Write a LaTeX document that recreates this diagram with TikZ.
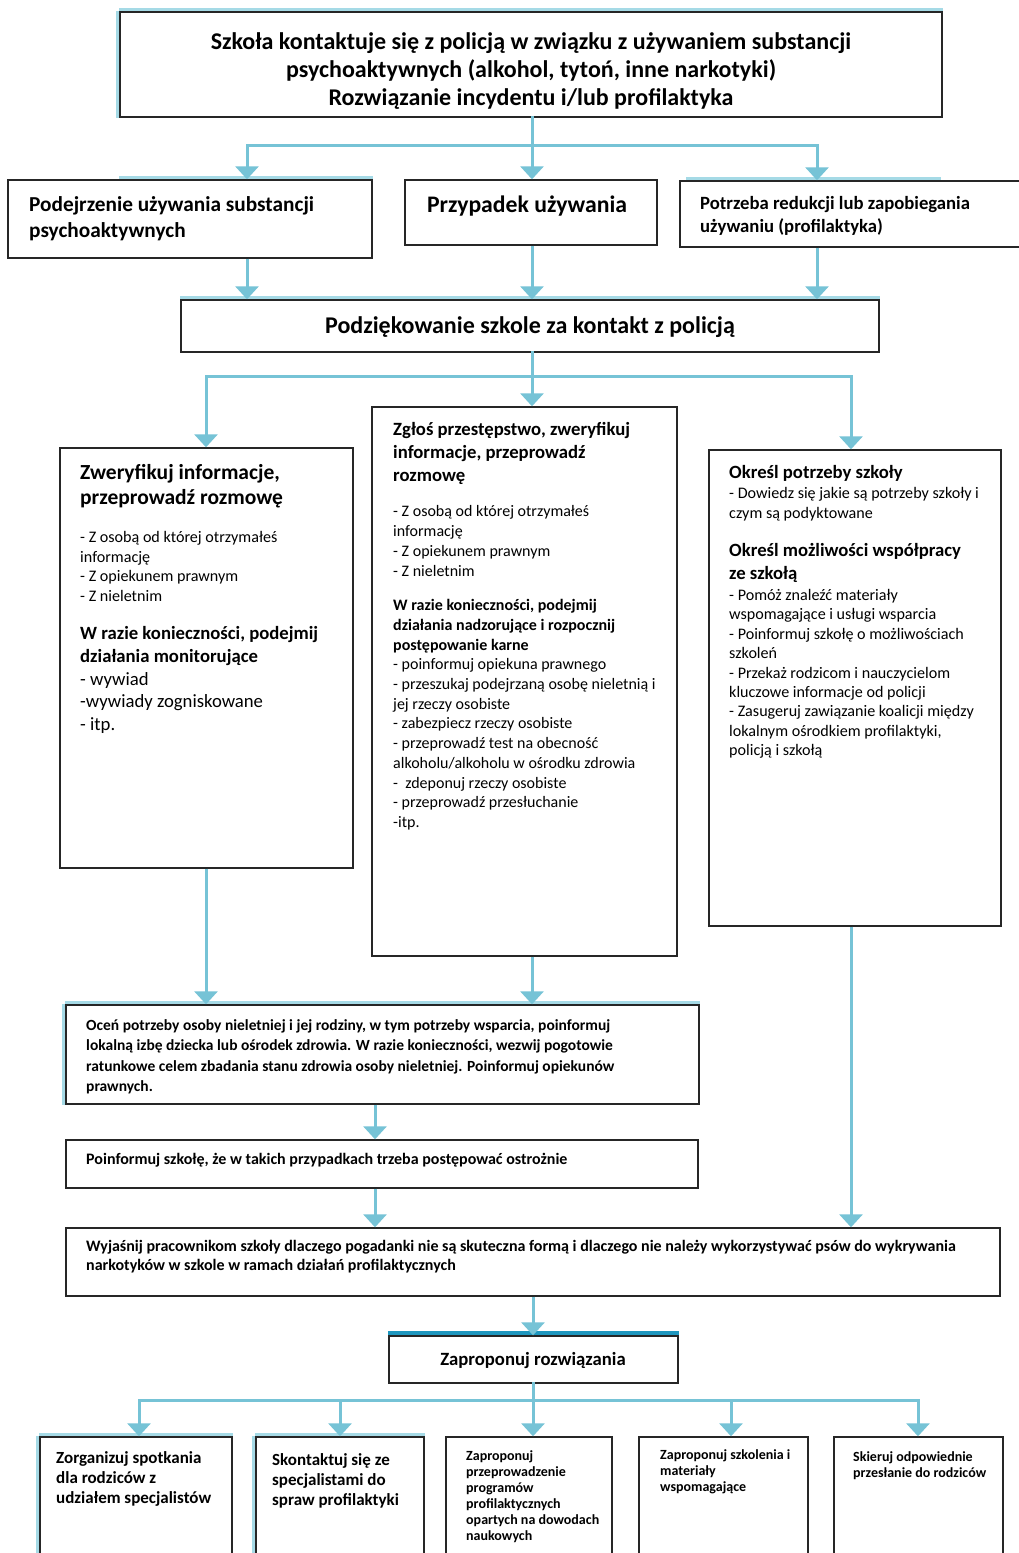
\documentclass[tikz,border=0pt]{standalone}
\usepackage{fontspec}
\setmainfont{Carlito}
\usetikzlibrary{fit,arrows.meta}
\definecolor{connblue}{RGB}{118,195,214}
\definecolor{glowblue}{RGB}{165,218,230}
\definecolor{bandblue}{RGB}{30,150,190}
\newcommand{\fsz}[2]{\fontsize{#1}{#2}\selectfont}
\tikzset{
  box/.style={draw=black!85, line width=1.4pt, fill=white, inner sep=0pt},
  link/.style={draw=connblue, line width=3pt, line cap=rect},
  arr/.style={draw=connblue, line width=3pt, -{Triangle[width=23pt,length=13pt]}},
  glow/.style={draw=glowblue, line width=2.5pt},
  txt/.style={anchor=north west, align=left, inner sep=0pt},
  ctxt/.style={anchor=north, align=center, inner sep=0pt},
}
\begin{document}
\begin{tikzpicture}[x=1pt,y=-1pt]
\useasboundingbox (0,0) rectangle (1019,1553);
\fill[white] (0,0) rectangle (1019,1553);

% ---------- boxes ----------
\node[box, fit={(120,12)(942,117)}] (top) {};
\node[box, fit={(8,180)(372,258)}] (A) {};
\node[box, fit={(405,180)(657,245)}] (B) {};
\node[box, fit={(680,181)(1030,247)}] (C) {};
\node[box, fit={(181,300)(879,352)}] (P) {};
\node[box, fit={(60,448)(353,868)}] (D) {};
\node[box, fit={(372,407)(677,956)}] (E) {};
\node[box, fit={(709,450)(1001,926)}] (F) {};
\node[box, fit={(66,1005)(699,1104)}] (G) {};
\node[box, fit={(66,1140)(698,1188)}] (H) {};
\node[box, fit={(66,1228)(1000,1296)}] (I) {};
\node[box, fit={(389,1336)(678,1383)}] (J) {};
\node[box, fit={(40,1437)(232,1580)}] (K1) {};
\node[box, fit={(256,1437)(424,1580)}] (K2) {};
\node[box, fit={(446,1437)(612,1580)}] (K3) {};
\node[box, fit={(639,1437)(808,1580)}] (K4) {};
\node[box, fit={(834,1437)(1003,1580)}] (K5) {};

% ---------- glow edges ----------
\draw[glow] ([yshift=2pt]top.north west) -- ([yshift=2pt]top.north east);
\draw[glow] ([xshift=-2pt]top.north west) -- ([xshift=-2pt]top.south west);
\draw[glow] ([yshift=2pt,xshift=112pt]A.north west) -- ([yshift=2pt]A.north east);
\draw[glow] ([yshift=2pt,xshift=7pt]C.north west) -- ([yshift=2pt,xshift=262pt]C.north west);
\draw[glow] ([yshift=2pt]P.north west) -- ([yshift=2pt]P.north east);
\draw[glow] ([yshift=2pt]G.north west) -- ([yshift=2pt]G.north east);
\draw[glow] ([xshift=-2pt]G.north west) -- ([xshift=-2pt]G.south west);
\draw[bandblue, line width=3.5pt] ([yshift=2.5pt]J.north west) -- ([yshift=2.5pt]J.north east);
\draw[glow] ([yshift=2pt]K1.north west) -- ([yshift=2pt]K1.north east);
\draw[glow] ([xshift=-2pt]K1.north west) -- ([xshift=-2pt]K1.south west);
\draw[glow] ([yshift=2pt]K2.north west) -- ([yshift=2pt]K2.north east);
\draw[glow] ([xshift=-2pt]K2.north west) -- ([xshift=-2pt]K2.south west);

% ---------- texts ----------
\node[ctxt, font=\bfseries\fsz{24}{28}] (topT) at (531,32)
  {Szkoła kontaktuje się z policją w związku z używaniem substancji\\psychoaktywnych (alkohol, tytoń, inne narkotyki)\\Rozwiązanie incydentu i/lub profilaktyka};
\node[txt, font=\bfseries\fsz{21.3}{26}] (AT) at (29,196)
  {Podejrzenie używania substancji\\psychoaktywnych};
\node[ctxt, font=\bfseries\fsz{23.7}{26}] (BT) at (527,196) {Przypadek używania};
\node[txt, font=\bfseries\fsz{18.7}{23}] (CT) at (700,196)
  {Potrzeba redukcji lub zapobiegania\\używaniu (profilaktyka)};
\node[ctxt, font=\bfseries\fsz{24}{26}] (PT) at (530,316) {Podziękowanie szkole za kontakt z policją};

\node[txt, font=\bfseries\fsz{21.5}{25}] (dT1) at (80,464)
  {Zweryfikuj informacje,\\przeprowadź rozmowę};
\node[txt, font=\fsz{16.1}{19.5}] (dT2) at (80,531.2)
  {- Z osobą od której otrzymałeś\\informację\\- Z opiekunem prawnym\\- Z nieletnim};
\node[txt, font=\bfseries\fsz{18.7}{23}] (dT3) at (80,626)
  {W razie konieczności, podejmij\\działania monitorujące};
\node[txt, font=\fsz{18.7}{22.5}] (dT4) at (80,672)
  {- wywiad\\-wywiady zogniskowane\\- itp.};

\node[txt, font=\bfseries\fsz{18.7}{23}] (eT1) at (393,422)
  {Zgłoś przestępstwo, zweryfikuj\\informacje, przeprowadź\\rozmowę};
\node[txt, font=\fsz{16}{20}] (eT2) at (393,505.3)
  {- Z osobą od której otrzymałeś\\informację\\- Z opiekunem prawnym\\- Z nieletnim};
\node[txt, font=\fsz{16}{19.7}] (eT3) at (393,599.3)
  {{\bfseries W razie konieczności, podejmij}\\{\bfseries działania nadzorujące i rozpocznij}\\{\bfseries postępowanie karne}\\
   - poinformuj opiekuna prawnego\\- przeszukaj podejrzaną osobę nieletnią i\\jej rzeczy osobiste\\- zabezpiecz rzeczy osobiste\\
   - przeprowadź test na obecność\\alkoholu/alkoholu w ośrodku zdrowia\\-\ \ zdeponuj rzeczy osobiste\\- przeprowadź przesłuchanie\\-itp.};

\node[txt, font=\bfseries\fsz{18.7}{23}] (fT1) at (729,465) {Określ potrzeby szkoły};
\node[txt, font=\fsz{16.1}{20}] (fT2) at (729,487.2)
  {- Dowiedz się jakie są potrzeby szkoły i\\czym są podyktowane};
\node[txt, font=\bfseries\fsz{18.7}{23}] (fT3) at (729,543)
  {Określ możliwości współpracy\\ze szkołą};
\node[txt, font=\fsz{16.1}{19.4}] (fT4) at (729,589.2)
  {- Pomóż znaleźć materiały\\wspomagające i usługi wsparcia\\- Poinformuj szkołę o możliwościach\\szkoleń\\- Przekaż rodzicom i nauczycielom\\kluczowe informacje od policji\\- Zasugeruj zawiązanie koalicji między\\lokalnym ośrodkiem profilaktyki,\\policją i szkołą};

\node[txt, font=\bfseries\fsz{15.5}{20.3}] (GT) at (86,1019.5)
  {Oceń potrzeby osoby nieletniej i jej rodziny, w tym potrzeby wsparcia, poinformuj\\lokalną izbę dziecka lub ośrodek zdrowia. W razie konieczności, wezwij pogotowie\\ratunkowe celem zbadania stanu zdrowia osoby nieletniej. Poinformuj opiekunów\\prawnych.};
\node[txt, font=\bfseries\fsz{16}{20}] (HT) at (86,1153.3)
  {Poinformuj szkołę, że w takich przypadkach trzeba postępować ostrożnie};
\node[txt, font=\bfseries\fsz{16}{19}] (IT) at (86,1240.3)
  {Wyjaśnij pracownikom szkoły dlaczego pogadanki nie są skuteczna formą i dlaczego nie należy wykorzystywać psów do wykrywania\\narkotyków w szkole w ramach działań profilaktycznych};
\node[ctxt, font=\bfseries\fsz{18.7}{22}] (JT) at (533,1352) {Zaproponuj rozwiązania};

\node[txt, font=\bfseries\fsz{17}{20}] (K1T) at (56,1451)
  {Zorganizuj spotkania\\dla rodziców z\\udziałem specjalistów};
\node[txt, font=\bfseries\fsz{17}{20}] (K2T) at (272,1453)
  {Skontaktuj się ze\\specjalistami do\\spraw profilaktyki};
\node[txt, font=\bfseries\fsz{14}{16}] (K3T) at (466,1450)
  {Zaproponuj\\przeprowadzenie\\programów\\profilaktycznych\\opartych na dowodach\\naukowych};
\node[txt, font=\bfseries\fsz{14}{16}] (K4T) at (660,1449)
  {Zaproponuj szkolenia i\\materiały\\wspomagające};
\node[txt, font=\bfseries\fsz{14}{16}] (K5T) at (853,1451)
  {Skieruj odpowiednie\\przesłanie do rodziców};

% ---------- connectors ----------
\coordinate (b1) at (532,145);
\coordinate (b1A) at (247,145);
\coordinate (b1C) at (817,145);
\draw[link] (top.south -| b1) -- (b1);
\draw[link] (b1A) -- (b1C);
\draw[arr] (b1A) -- (b1A |- A.north);
\draw[arr] (b1) -- (b1 |- B.north);
\draw[arr] (b1C) -- (b1C |- C.north);
\draw[arr] (A.south -| b1A) -- (b1A |- P.north);
\draw[arr] (B.south -| b1) -- (b1 |- P.north);
\draw[arr] (C.south -| b1C) -- (b1C |- P.north);

\coordinate (b2) at (532,376);
\coordinate (b2D) at (206,376);
\coordinate (b2F) at (851,376);
\draw[link] (P.south -| b2) -- (b2);
\draw[link] (b2D) -- (b2F);
\draw[arr] (b2D) -- (b2D |- D.north);
\draw[arr] (b2) -- (b2 |- E.north);
\draw[arr] (b2F) -- (b2F |- F.north);
\draw[arr] (D.south -| b2D) -- (b2D |- G.north);
\draw[arr] (E.south -| b2) -- (b2 |- G.north);
\draw[arr] (F.south -| b2F) -- (b2F |- I.north);

\coordinate (c1) at (375,1120);
\draw[arr] (G.south -| c1) -- (c1 |- H.north);
\draw[arr] (H.south -| c1) -- (c1 |- I.north);
\coordinate (c2) at (533,1315);
\draw[arr] (I.south -| c2) -- (c2 |- J.north);

\coordinate (b3) at (533,1400);
\coordinate (b3a) at (139,1400);
\coordinate (b3b) at (340,1400);
\coordinate (b3d) at (731,1400);
\coordinate (b3e) at (918,1400);
\draw[link] (J.south -| b3) -- (b3);
\draw[link] (b3a) -- (b3e);
\draw[arr] (b3a) -- (b3a |- K1.north);
\draw[arr] (b3b) -- (b3b |- K2.north);
\draw[arr] (b3) -- (b3 |- K3.north);
\draw[arr] (b3d) -- (b3d |- K4.north);
\draw[arr] (b3e) -- (b3e |- K5.north);
\end{tikzpicture}
\end{document}
